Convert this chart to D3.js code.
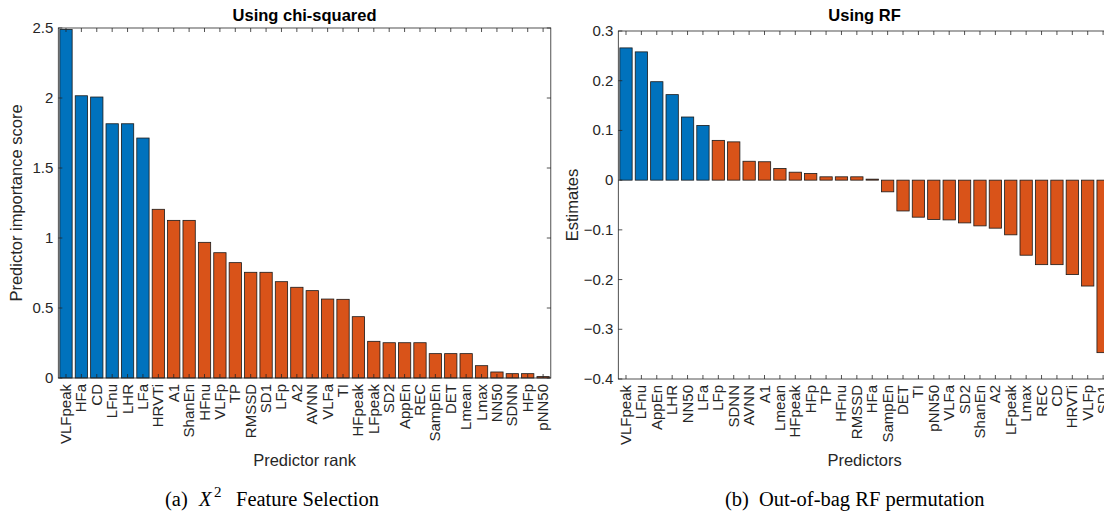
<!DOCTYPE html>
<html>
<head>
<meta charset="utf-8">
<script src="https://cdn.jsdelivr.net/npm/d3@7"></script>
<style>
  body { margin: 0; background: #fff; }
  svg { display: block; font-family: "Liberation Sans", Arial, sans-serif; }
</style>
</head>
<body>
<div id="chart"></div>
<script>
// chi-squared predictor ranking (left panel)
const chiNames = ["VLFpeak", "HFa", "CD", "LFnu", "LHR", "LFa", "HRVTi", "A1", "ShanEn", "HFnu",
  "VLFp", "TP", "RMSSD", "SD1", "LFp", "A2", "AVNN", "VLFa", "TI", "HFpeak", "LFpeak", "SD2",
  "AppEn", "REC", "SampEn", "DET", "Lmean", "Lmax", "NN50", "SDNN", "HFp", "pNN50"];
const chiScores = [2.49, 2.016, 2.007, 1.816, 1.816, 1.714, 1.205, 1.126, 1.126, 0.969,
  0.895, 0.824, 0.755, 0.755, 0.688, 0.648, 0.624, 0.564, 0.562, 0.438, 0.262, 0.252,
  0.252, 0.252, 0.174, 0.174, 0.174, 0.088, 0.043, 0.031, 0.031, 0.01];
const chiTicks = [0, 0.5, 1, 1.5, 2, 2.5];

// out-of-bag RF permutation estimates (right panel)
const rfNames = ["VLFpeak", "LFnu", "AppEn", "LHR", "NN50", "LFa", "LFp", "SDNN", "AVNN", "A1",
  "Lmean", "HFpeak", "HFp", "TP", "HFnu", "RMSSD", "HFa", "SampEn", "DET", "TI", "pNN50", "VLFa",
  "SD2", "ShanEn", "A2", "LFpeak", "Lmax", "REC", "CD", "HRVTi", "VLFp", "SD1"];
const rfScores = [0.266, 0.258, 0.198, 0.172, 0.127, 0.110, 0.080, 0.077, 0.038, 0.037,
  0.0235, 0.016, 0.0134, 0.0067, 0.0067, 0.0067, 0.002, -0.0235, -0.062, -0.0745, -0.079, -0.080,
  -0.086, -0.092, -0.0966, -0.110, -0.151, -0.170, -0.170, -0.190, -0.213, -0.347];
const rfTicks = [-0.4, -0.3, -0.2, -0.1, 0, 0.1, 0.2, 0.3];

const nTop = 6;
const blue = "#0072BD";
const orange = "#D95319";
const axisColor = "#262626";

const svg = d3.select("#chart")
    .append("svg")
    .attr("width", 1104)
    .attr("height", 511);

function drawPanel(cfg) {
    const x = d3.scaleBand()
        .domain(cfg.names)
        .range([cfg.left, cfg.right])
        .paddingInner(0.2)
        .paddingOuter(0.1);

    const y = d3.scaleLinear()
        .domain(cfg.yDomain)
        .range([cfg.bottom, cfg.top]);

    const g = svg.append("g");

    // bars
    g.selectAll(".bar")
        .data(cfg.values)
        .enter()
        .append("rect")
        .attr("x", (d, i) => x(cfg.names[i]))
        .attr("width", x.bandwidth())
        .attr("y", d => y(Math.max(0, d)))
        .attr("height", d => Math.abs(y(d) - y(0)))
        .attr("fill", (d, i) => i < nTop ? blue : orange)
        .attr("stroke", "#1a1a1a")
        .attr("stroke-width", 0.8);

    // box
    g.append("rect")
        .attr("x", cfg.left)
        .attr("y", cfg.top)
        .attr("width", cfg.right - cfg.left)
        .attr("height", cfg.bottom - cfg.top)
        .attr("fill", "none")
        .attr("stroke", axisColor)
        .attr("stroke-width", 0.8);

    const tl = 4;
    // x ticks (bottom + top, inward)
    cfg.names.forEach(n => {
        const cx = x(n) + x.bandwidth() / 2;
        g.append("line").attr("x1", cx).attr("x2", cx)
            .attr("y1", cfg.bottom).attr("y2", cfg.bottom - tl)
            .attr("stroke", axisColor).attr("stroke-width", 0.8);
        g.append("line").attr("x1", cx).attr("x2", cx)
            .attr("y1", cfg.top).attr("y2", cfg.top + tl)
            .attr("stroke", axisColor).attr("stroke-width", 0.8);
    });

    // x tick labels rotated
    g.selectAll(".xlab")
        .data(cfg.names)
        .enter()
        .append("text")
        .attr("transform", d => "translate(" + (x(d) + x.bandwidth() / 2 + 5) + "," + (cfg.bottom + 6) + ") rotate(-90)")
        .attr("text-anchor", "end")
        .attr("font-size", "15px")
        .attr("fill", axisColor)
        .text(d => d);

    // y ticks (left + right, inward)
    cfg.yTicks.forEach(t => {
        const ty = y(t);
        g.append("line").attr("x1", cfg.left).attr("x2", cfg.left + tl)
            .attr("y1", ty).attr("y2", ty)
            .attr("stroke", axisColor).attr("stroke-width", 0.8);
        g.append("line").attr("x1", cfg.right).attr("x2", cfg.right - tl)
            .attr("y1", ty).attr("y2", ty)
            .attr("stroke", axisColor).attr("stroke-width", 0.8);
        g.append("text")
            .attr("x", cfg.left - 5)
            .attr("y", ty + 5)
            .attr("text-anchor", "end")
            .attr("font-size", "15px")
            .attr("fill", axisColor)
            .text(d3.format("")(+t.toFixed(2)));
    });

    // title
    g.append("text")
        .attr("x", (cfg.left + cfg.right) / 2)
        .attr("y", 21)
        .attr("text-anchor", "middle")
        .attr("font-size", "16.5px")
        .attr("font-weight", "bold")
        .attr("fill", "#000")
        .text(cfg.title);

    // axis labels
    g.append("text")
        .attr("x", (cfg.left + cfg.right) / 2)
        .attr("y", 466)
        .attr("text-anchor", "middle")
        .attr("font-size", "16.5px")
        .attr("fill", axisColor)
        .text(cfg.xLabel);

    g.append("text")
        .attr("transform", "translate(" + cfg.yLabelX + "," + ((cfg.top + cfg.bottom) / 2) + ") rotate(-90)")
        .attr("text-anchor", "middle")
        .attr("font-size", "16.5px")
        .attr("fill", axisColor)
        .text(cfg.yLabel);
}

drawPanel({
    names: chiNames, values: chiScores, yTicks: chiTicks, yDomain: [0, 2.5],
    left: 58.3, right: 550.8, top: 28, bottom: 378,
    title: "Using chi-squared", xLabel: "Predictor rank", yLabel: "Predictor importance score",
    yLabelX: 22
});

drawPanel({
    names: rfNames, values: rfScores, yTicks: rfTicks, yDomain: [-0.4, 0.3],
    left: 618.3, right: 1110.8, top: 31, bottom: 379,
    title: "Using RF", xLabel: "Predictors", yLabel: "Estimates",
    yLabelX: 578
});

// captions
const cap = svg.append("g")
    .attr("font-family", "'Liberation Serif', 'Times New Roman', serif")
    .attr("font-size", "20.5px")
    .attr("fill", "#000");

const capA = cap.append("text").attr("y", 506);
capA.append("tspan").attr("x", 165).text("(a)");
capA.append("tspan").attr("x", 199).attr("font-style", "italic").text("X");
capA.append("tspan").attr("x", 214).attr("font-size", "15px").attr("dy", -9).text("2");
capA.append("tspan").attr("x", 236).attr("dy", 9).text("Feature Selection");

const capB = cap.append("text").attr("y", 506);
capB.append("tspan").attr("x", 725).text("(b)");
capB.append("tspan").attr("x", 759).text("Out-of-bag RF permutation");
</script>
</body>
</html>
